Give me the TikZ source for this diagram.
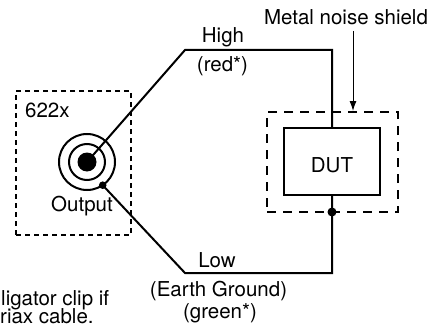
\documentclass[tikz,border=0pt]{standalone}
\usepackage{fontspec}
\setmainfont{TeX Gyre Heros}
\usetikzlibrary{arrows.meta}
\begin{document}
\begin{tikzpicture}[x=1pt,y=-1pt,
  wire/.style={line width=2pt},
  lbl/.style={font=\fontsize{20.5}{24}\selectfont, inner sep=0pt, anchor=base},
  instbox/.style={draw, line width=2pt, dash pattern=on 5pt off 4pt, inner sep=0pt},
  shieldbox/.style={draw, line width=2.2pt, dash pattern=on 9pt off 7pt, inner sep=0pt},
  dutbox/.style={draw, line width=2pt, inner sep=0pt},
  pointer/.style={line width=1pt, -{Latex[length=10pt,width=7pt]}}]
\useasboundingbox (0,0) rectangle (438,326);
% instrument box
\node[instbox, minimum width=115pt, minimum height=144pt] (inst) at (73.5,163) {};
\node[lbl, anchor=base west] (instlbl) at (25,117) {622x};
% connector
\coordinate (c) at (87,162);
\draw[wire] (c) circle[radius=28pt];
\draw[wire] (c) circle[radius=18pt];
\fill (c) circle[radius=9.5pt];
\coordinate (lowpt) at (102.7,185.2);
\fill (lowpt) circle[radius=3.8pt];
\node[lbl] (outlbl) at (82,211) {Output};
% shield and DUT
\node[shieldbox, minimum width=131pt, minimum height=100pt] (shield) at (332.5,162) {};
\node[dutbox, minimum width=96pt, minimum height=67pt] (dut) at (332,161.5) {};
\node[lbl] (dutlbl) at (332,172) {DUT};
\coordinate (j) at (332,212);
% high wire
\coordinate (h1) at (185,50);
\coordinate (h2) at (332,50);
\draw[wire] (c) -- (h1) -- (h2) -- (dut.north);
\node[lbl] (highlbl) at (223,43) {High};
\node[lbl] (redlbl) at (222.5,72) {(red*)};
% low wire
\coordinate (l1) at (185,273);
\coordinate (l2) at (332,273);
\draw[wire] (lowpt) -- (l1) -- (l2) -- (j) -- (dut.south);
\fill (j) circle[radius=4.5pt];
\node[lbl] (lowlbl) at (217,267) {Low};
\node[lbl] (earthlbl) at (218.5,296) {(Earth Ground)};
\node[lbl] (greenlbl) at (220,318) {(green*)};
% shield label
\node[lbl] (shieldlbl) at (346,25) {Metal noise shield};
\coordinate (tip) at (353,111);
\draw[pointer] (353,31) -- (tip);
% note
\node[lbl, anchor=base west] (note1) at (1,305) {ligator clip if};
\node[lbl, anchor=base west] (note2) at (0,323.5) {riax cable.};
\end{tikzpicture}
\end{document}
